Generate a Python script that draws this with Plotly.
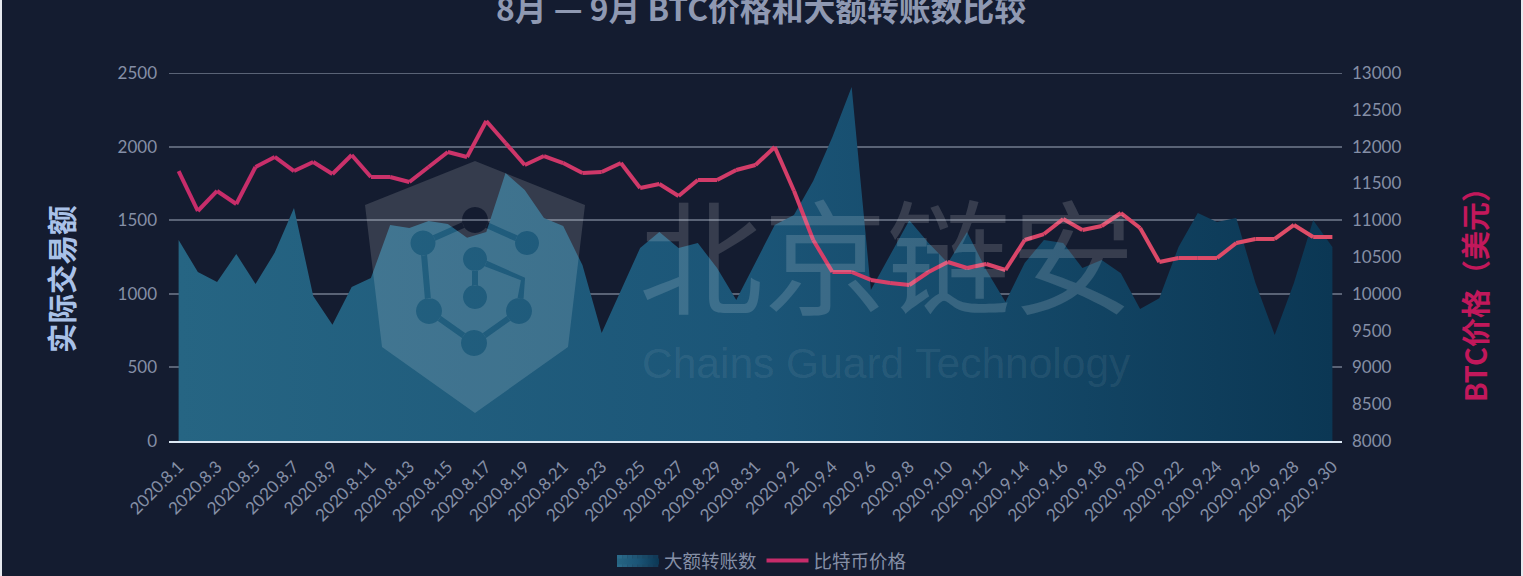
import numpy as np
import plotly.graph_objects as go

W, H = 1523, 576
L, R, T, B = 169, 1342, 73, 441

dates = ["2020.8.1","2020.8.2","2020.8.3","2020.8.4","2020.8.5","2020.8.6","2020.8.7","2020.8.8","2020.8.9","2020.8.10",
         "2020.8.11","2020.8.12","2020.8.13","2020.8.14","2020.8.15","2020.8.16","2020.8.17","2020.8.18","2020.8.19","2020.8.20",
         "2020.8.21","2020.8.22","2020.8.23","2020.8.24","2020.8.25","2020.8.26","2020.8.27","2020.8.28","2020.8.29","2020.8.30",
         "2020.8.31","2020.9.1","2020.9.2","2020.9.3","2020.9.4","2020.9.5","2020.9.6","2020.9.7","2020.9.8","2020.9.9",
         "2020.9.10","2020.9.11","2020.9.12","2020.9.13","2020.9.14","2020.9.15","2020.9.16","2020.9.17","2020.9.18","2020.9.19",
         "2020.9.20","2020.9.21","2020.9.22","2020.9.23","2020.9.24","2020.9.25","2020.9.26","2020.9.27","2020.9.28","2020.9.29","2020.9.30"]

transfers = [1365,1148,1080,1270,1067,1280,1583,985,790,1046,
             1107,1467,1447,1495,1474,1380,1420,1820,1705,1515,
             1460,1195,734,1026,1311,1420,1311,1345,1175,958,
             1216,1467,1535,1766,2065,2405,1026,1263,1500,1345,
             1210,1420,1162,945,1210,1365,1345,1175,1230,1140,
             897,970,1318,1549,1488,1515,1073,720,1073,1500,1318]

price = [11668,11125,11397,11220,11723,11859,11668,11791,11628,11886,
         11587,11587,11519,11723,11927,11859,12348,12049,11750,11872,
         11777,11641,11655,11777,11438,11492,11329,11546,11546,11682,
         11750,11995,11400,10731,10296,10296,10188,10147,10120,10296,
         10432,10351,10405,10323,10731,10812,11016,10867,10921,11098,
         10894,10432,10486,10486,10486,10690,10745,10745,10935,10772,10772]

title_text = "8月 — 9月 BTC价格和大额转账数比较"
left_title = "实际交易额"
right_title = "BTC价格（美元）"
area_name = "大额转账数"
line_name = "比特币价格"
BG = "#141c30"
TICK = "#858fa6"
GRID = "#5a6376"
Y_TOP = 2500


def px(x):
    return (x - L) / (R - L)


def py(y):
    return (B - y) / (B - T)


def mix3(a, b, t):
    return "rgb(%d,%d,%d)" % tuple(round(a[k] + (b[k] - a[k]) * t) for k in range(3))


def mix(t):
    return mix3((198, 44, 106), (224, 78, 104), t)


fig = go.Figure()
fig.add_trace(go.Scatter(
    x=dates, y=transfers, name=area_name, mode="lines", line=dict(width=0, color="#266583"),
    fill="tozeroy",
    fillgradient=dict(type="horizontal", colorscale=[[0, "#266583"], [0.5, "#1b5577"], [1, "#0b3754"]]),
    yaxis="y", hoverinfo="x+y",
))
for i in range(len(dates) - 1):
    fig.add_trace(go.Scatter(
        x=dates[i:i + 2], y=price[i:i + 2], name=line_name, mode="lines",
        line=dict(width=4, color=mix(i / (len(dates) - 2))),
        yaxis="y2", showlegend=i == 0, legendgroup="price",
    ))


def ring(cx, cy, r, n=24):
    a = np.linspace(0, 2 * np.pi, n, endpoint=False)
    return [(cx + r * np.cos(t), cy + r * np.sin(t)) for t in a]


def poly(points):
    return "M" + " L".join(f"{px(x):.5f},{py(y):.5f}" for x, y in points) + " Z"


def link(a, b, ra, rb, w=6.0):
    (x0, y0), (x1, y1) = a, b
    d = np.hypot(x1 - x0, y1 - y0)
    ux, uy = (x1 - x0) / d, (y1 - y0) / d
    nx, ny = -uy * w / 2, ux * w / 2
    sa = np.sqrt(ra * ra - w * w / 4)
    sb = np.sqrt(rb * rb - w * w / 4)
    p0 = (x0 + ux * sa, y0 + uy * sa)
    p1 = (x1 - ux * sb, y1 - uy * sb)
    return [(p0[0] + nx, p0[1] + ny), (p1[0] + nx, p1[1] + ny), (p1[0] - nx, p1[1] - ny), (p0[0] - nx, p0[1] - ny)]


def elbow(a, e, b, ra, rb, w=6.0):
    q1 = link(a, e, ra, 3.0, w)
    q2 = link(e, b, 3.0, rb, w)
    mid_a = ((q1[1][0] + q2[0][0]) / 2, (q1[1][1] + q2[0][1]) / 2)
    mid_b = ((q1[2][0] + q2[3][0]) / 2, (q1[2][1] + q2[3][1]) / 2)
    return [q1[0], mid_a, q2[1], q2[2], mid_b, q1[3]]


nodes = {"top": (475, 220, 13), "l": (423, 243, 12.5), "r": (527, 243, 12), "c1": (475, 259, 12),
         "c2": (475, 297, 12), "bl": (429, 311, 13), "br": (519, 311, 13), "b": (474, 343, 13)}
links = [("top", "l"), ("top", "r"), ("l", "bl"), ("bl", "b"), ("b", "br"), ("c1", "c2")]
hexagon = [(475, 161), (585, 205), (568, 347), (475, 413), (382, 347), (365, 205)]
logo = poly(hexagon)
for cx, cy, r in nodes.values():
    logo += " " + poly(ring(cx, cy, r))
for a, b in links:
    na, nb = nodes[a], nodes[b]
    logo += " " + poly(link(na[:2], nb[:2], na[2], nb[2]))
logo += " " + poly(elbow((475, 259), (523, 279), (519, 311), 12, 13))

swatch = []
for k in range(8):
    x0 = 617 + k * 41 / 8
    swatch.append(dict(type="rect", xref="paper", yref="paper", x0=px(x0), x1=px(x0 + 41 / 8 + 0.3), y0=py(567), y1=py(555),
                       fillcolor=mix3((42, 106, 138), (18, 58, 88), k / 7), line_width=0, layer="above"))

fig.update_layout(
    width=W, height=H, margin=dict(l=L, r=W - R, t=T, b=H - B, autoexpand=False),
    paper_bgcolor=BG, plot_bgcolor=BG,
    title=dict(text=title_text, x=761 / W, xanchor="center", y=1 - 10 / H, yanchor="middle", xref="container", yref="container",
               font=dict(family="Noto Sans CJK SC", size=31.8, color="#8f99b2", weight="bold")),
    xaxis=dict(type="category", categoryorder="array", categoryarray=dates, range=[-0.5, 60.5],
               tickmode="array", tickvals=dates[::2], ticktext=dates[::2], tickangle=-45,
               tickfont=dict(family="Lato", size=17, color=TICK), ticklabelstandoff=7,
               showgrid=False, showline=True, linecolor="#dce8f4", linewidth=2, ticks="", zeroline=False),
    yaxis=dict(range=[0, Y_TOP], dtick=500, tickformat="d", tickfont=dict(family="Lato", size=17, color=TICK),
               gridcolor=GRID, gridwidth=1.6, zeroline=False, showline=False, ticks="", ticklabelstandoff=11),
    yaxis2=dict(range=[8000, 13000], dtick=500, tickformat="d", overlaying="y", side="right", showgrid=False, zeroline=False,
                showline=False, tickfont=dict(family="Lato", size=17, color=TICK), ticks="", ticklabelstandoff=9),
    legend=dict(orientation="h", x=px(762), xanchor="center", y=py(561), yanchor="middle", itemwidth=42,
                bgcolor="rgba(0,0,0,0)", font=dict(family="Noto Sans CJK SC", size=18.5, color=TICK), traceorder="normal"),
    shapes=[
        dict(type="line", xref="paper", yref="y", x0=0, x1=1, y0=Y_TOP, y1=Y_TOP, line=dict(color=GRID, width=2), layer="below"),
        dict(type="rect", xref="paper", yref="paper", x0=px(0), x1=px(2), y0=py(H), y1=py(0), fillcolor="#e6e9ee", line_width=0, layer="above"),
        dict(type="rect", xref="paper", yref="paper", x0=px(1521), x1=px(W), y0=py(H), y1=py(0), fillcolor="#e6e9ee", line_width=0, layer="above"),
        dict(type="path", xref="paper", yref="paper", path=logo, fillrule="evenodd",
             fillcolor="rgba(255,255,255,0.14)", line_width=0, layer="above"),
    ] + swatch,
    annotations=[
        dict(text=left_title, textangle=-90, xref="paper", yref="paper", x=px(60), y=py(279), xanchor="center", yanchor="middle",
             showarrow=False, font=dict(family="Noto Sans CJK SC", size=29.5, color="#a9c1e8", weight="bold")),
        dict(text=right_title, textangle=-90, xref="paper", yref="paper", x=px(1474), y=py(288), xanchor="center", yanchor="middle",
             showarrow=False, font=dict(family="Noto Sans CJK SC", size=29, color="#c2185b", weight="bold")),
        dict(text="北京链安", xref="paper", yref="paper", x=px(887), y=py(251), xanchor="center", yanchor="middle", showarrow=False,
             font=dict(family="Noto Sans CJK SC", size=124, color="rgba(255,255,255,0.15)")),
        dict(text="Chains Guard Technology", xref="paper", yref="paper", x=px(887), y=py(363), xanchor="center", yanchor="middle",
             showarrow=False, font=dict(family="Liberation Sans", size=42.5, color="rgba(255,255,255,0.08)")),
    ],
    showlegend=True,
)

fig.write_html("out.html", config=dict(displayModeBar=False),
               post_script="document.body.style.margin='0';document.body.style.background='%s';" % BG)
